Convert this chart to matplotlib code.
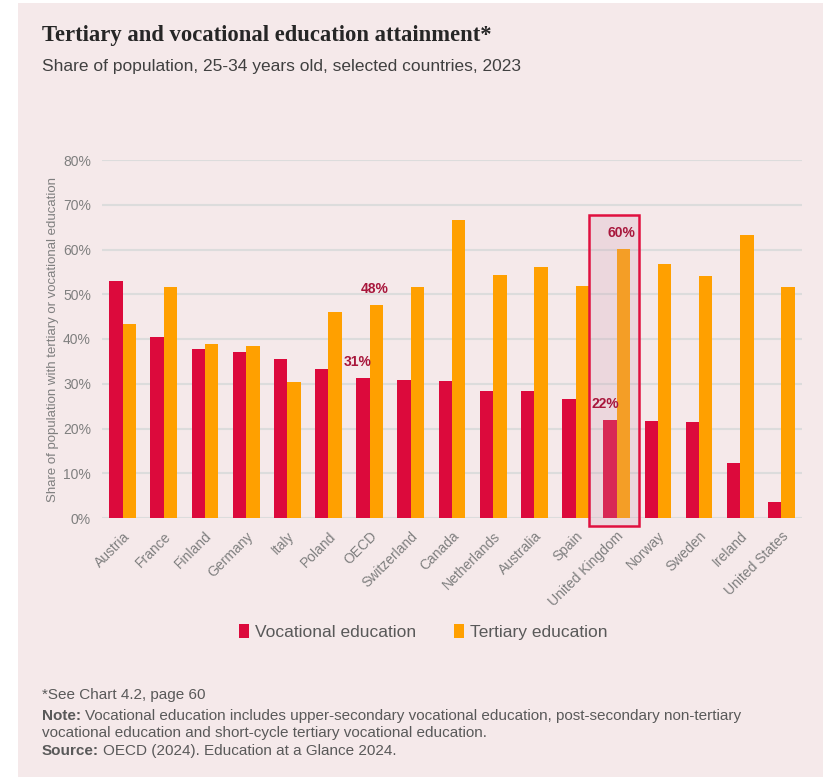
import matplotlib
matplotlib.use("Agg")
import matplotlib.pyplot as plt
from matplotlib import font_manager
from matplotlib.patches import Rectangle
import numpy as np

countries = ["Austria", "France", "Finland", "Germany", "Italy", "Poland", "OECD",
             "Switzerland", "Canada", "Netherlands", "Australia", "Spain",
             "United Kingdom", "Norway", "Sweden", "Ireland", "United States"]
vocational = [52.9, 40.5, 37.8, 37.0, 35.6, 33.3, 31.2, 30.8, 30.6, 28.3, 28.3,
              26.7, 21.8, 21.7, 21.5, 12.2, 3.5]
tertiary = [43.4, 51.7, 38.9, 38.4, 30.4, 46.1, 47.6, 51.7, 66.7, 54.4, 56.2,
            51.9, 60.1, 56.8, 54.0, 63.2, 51.7]
y_ticks = [0, 10, 20, 30, 40, 50, 60, 70, 80]

names = {f.name for f in font_manager.fontManager.ttflist}
sans = "Liberation Sans Narrow" if "Liberation Sans Narrow" in names else "Liberation Sans"

bg = "#f5e9ea"
red = "#dc0a3c"
orange = "#ffa000"
lab = "#a8173c"
grey = "#7f7f7f"

fig = plt.figure(figsize=(8.23, 7.77), dpi=100)
fig.patch.set_facecolor("white")
fig.add_artist(Rectangle((18 / 823, 0), 1, 1 - 3 / 777, transform=fig.transFigure,
                         facecolor=bg, edgecolor="none", zorder=-10))

ax = fig.add_axes([102 / 823, 1 - 518 / 777, 700 / 823, 358 / 777])
ax.set_facecolor("none")
x = np.arange(len(countries))
w = 0.325
ax.bar(x - w / 2, vocational, w, color=red, zorder=3, label="Vocational education")
ax.bar(x + w / 2, tertiary, w, color=orange, zorder=3, label="Tertiary education")

ax.set_xlim(-0.5, len(countries) - 0.5)
ax.set_ylim(0, 80)
ax.set_yticks(y_ticks)
ax.set_yticklabels([f"{v}%" for v in y_ticks], fontsize=10, color=grey, family=sans)
ax.set_xticks(x)
ax.set_xticklabels(countries, rotation=45, ha="right", rotation_mode="anchor",
                   fontsize=10, color=grey, family=sans)
ax.tick_params(length=0, pad=8)
ax.grid(axis="y", color="#dcdcdc", linewidth=1.5, zorder=0)
for s in ax.spines.values():
    s.set_visible(False)
ax.set_ylabel("Share of population with tertiary or vocational education",
              fontsize=9.5, color=grey, family=sans, labelpad=3)

# highlight UK
uk = countries.index("United Kingdom")
ax.add_patch(Rectangle((uk - 0.68, -1.8), 1.21, 69.4, facecolor="#cd9baf", alpha=0.22,
                       edgecolor="none", zorder=4, clip_on=False))
ax.add_patch(Rectangle((uk - 0.68, -1.8), 1.21, 69.4, facecolor="none",
                       edgecolor="#e0103f", linewidth=1.8, zorder=5, clip_on=False))

# value labels
oecd = countries.index("OECD")
for i in (oecd, uk):
    ax.text(i - w / 2 - 0.12, vocational[i] + 3.6, f"{vocational[i]:.0f}%", color=lab,
            fontsize=10, fontweight="bold", ha="center", va="center", family=sans, zorder=6)
    ax.text(i + w / 2 - 0.05, tertiary[i] + 3.6, f"{tertiary[i]:.0f}%", color=lab,
            fontsize=10, fontweight="bold", ha="center", va="center", family=sans, zorder=6)

leg = fig.legend(loc="center", bbox_to_anchor=(423 / 823, 1 - 632 / 777), ncol=2,
                 frameon=False, handlelength=0.6, handleheight=0.9, handletextpad=0.3,
                 columnspacing=2.2, prop={"family": sans, "size": 12.5})
for t in leg.get_texts():
    t.set_color("#595959")

fig.text(42 / 823, 1 - 36 / 777, "Tertiary and vocational education attainment*",
         family="Liberation Serif", fontweight="bold", fontsize=16.3, color="#262626",
         va="center")
fig.text(42 / 823, 1 - 67 / 777, "Share of population, 25-34 years old, selected countries, 2023",
         family=sans, fontsize=12.5, color="#404040", va="center")

# footnotes: bold lead-in followed by regular text
foot = "#595959"
fs = 11
renderer = fig.canvas.get_renderer()


def lead_line(y, bold, rest):
    t = fig.text(42 / 823, 1 - y / 777, bold, family=sans, fontsize=fs, color=foot,
                 fontweight="bold", va="center")
    x1 = t.get_window_extent(renderer).x1
    if rest:
        fig.text((x1 + 4) / 823, 1 - y / 777, rest, family=sans, fontsize=fs,
                 color=foot, va="center")


lead_line(695, "", "")
fig.text(42 / 823, 1 - 695 / 777, "*See Chart 4.2, page 60", family=sans, fontsize=fs,
         color=foot, va="center")
lead_line(716, "Note:",
          "Vocational education includes upper-secondary vocational education, post-secondary non-tertiary")
fig.text(42 / 823, 1 - 733 / 777,
         "vocational education and short-cycle tertiary vocational education.",
         family=sans, fontsize=fs, color=foot, va="center")
lead_line(751, "Source:", "OECD (2024). Education at a Glance 2024.")

fig.savefig("out.png", dpi=100, facecolor=fig.get_facecolor())
